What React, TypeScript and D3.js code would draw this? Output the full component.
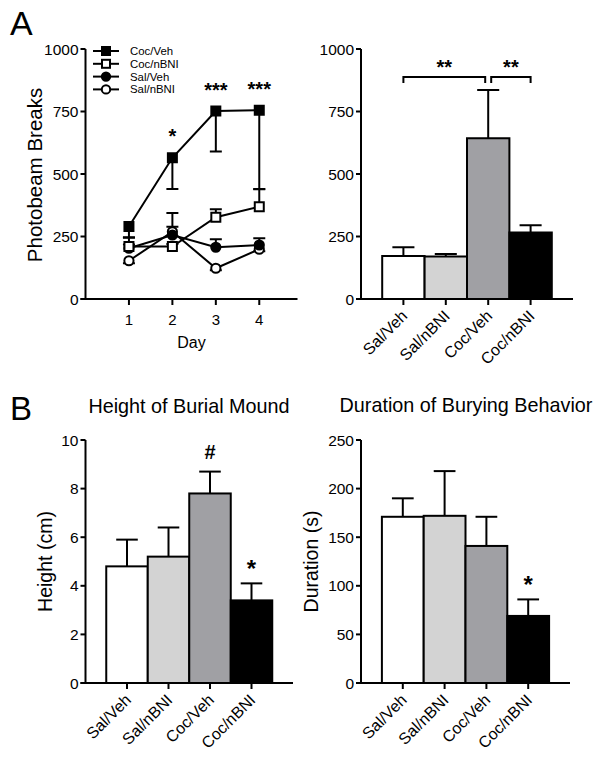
import React from "react";
import * as d3 from "d3";

// ---------- Data ----------
const days = [1, 2, 3, 4];
const seriesNames = ["Coc/Veh", "Coc/nBNI", "Sal/Veh", "Sal/nBNI"];
const cocVeh = [290, 565, 752, 755];
const cocVehErr = [-45, -125, -162, -315];
const cocNbni = [210, 210, 327, 369];
const cocNbniErr = [37, 10, 32, 70];
const salVeh = [203, 256, 207, 216];
const salVehErr = [15, 33, 32, 27];
const salNbni = [153, 269, 123, 199];
const salNbniErr = [-10, 75, -8, -8];
const dayStars = ["", "*", "***", "***"];
const photobeamTicks = [0, 250, 500, 750, 1000];

const groups = ["Sal/Veh", "Sal/nBNI", "Coc/Veh", "Coc/nBNI"];
const groupFills = ["#ffffff", "#d3d3d3", "#a0a0a4", "#000000"];
const photobeamMean = [172, 170, 643, 266];
const photobeamErr = [35, 10, 193, 29];
const heightMean = [4.8, 5.2, 7.8, 3.4];
const heightErr = [1.1, 1.2, 0.9, 0.7];
const heightMarks = ["", "", "#", "*"];
const heightTicks = [0, 2, 4, 6, 8, 10];
const durationMean = [171, 172, 141, 69];
const durationErr = [19, 46, 30, 17];
const durationMarks = ["", "", "", "*"];
const durationTicks = [0, 50, 100, 150, 200, 250];

const FONT = "'Liberation Sans', Arial, Helvetica, sans-serif";

type Marker = "fsq" | "osq" | "fci" | "oci";
const lineSeries: { name: string; values: number[]; errs: number[]; marker: Marker }[] = [
  { name: seriesNames[3], values: salNbni, errs: salNbniErr, marker: "oci" },
  { name: seriesNames[2], values: salVeh, errs: salVehErr, marker: "fci" },
  { name: seriesNames[1], values: cocNbni, errs: cocNbniErr, marker: "osq" },
  { name: seriesNames[0], values: cocVeh, errs: cocVehErr, marker: "fsq" },
];

function MarkerShape({ type, x, y, small }: { type: Marker; x: number; y: number; small?: boolean }) {
  if (type === "fsq" || type === "osq") {
    const s = small ? 8 : 9;
    return (
      <rect x={x - s / 2} y={y - s / 2} width={s} height={s}
        fill={type === "fsq" ? "#000" : "#fff"} stroke="#000" strokeWidth={2} />
    );
  }
  return <circle cx={x} cy={y} r={small ? 4.2 : 4.6} fill={type === "fci" ? "#000" : "#fff"} stroke="#000" strokeWidth={2} />;
}

function LineChart() {
  const axisX = 85.5;
  const yBottom = 299;
  const yTop = 49;
  const x = d3.scaleLinear().domain([0, 4.88]).range([axisX, 297.5]);
  const y = d3.scaleLinear().domain([0, 1000]).range([yBottom, yTop]);
  const line = d3.line<number>().x((_, i) => x(days[i])).y((v) => y(v));
  const cap = 6;
  return (
    <g>
      {/* axes */}
      <line x1={axisX} y1={yTop} x2={axisX} y2={yBottom} stroke="#000" strokeWidth={2} />
      <line x1={axisX - 5} y1={yBottom} x2={x(4.88)} y2={yBottom} stroke="#000" strokeWidth={2} />
      {photobeamTicks.map((t) => (
        <g key={t}>
          <line x1={axisX - 5} x2={axisX} y1={y(t)} y2={y(t)} stroke="#000" strokeWidth={2} />
          <text x={axisX - 7} y={y(t)} dy="0.36em" textAnchor="end" fontSize={15.5}>{t}</text>
        </g>
      ))}
      {days.map((d) => (
        <g key={d}>
          <line x1={x(d)} x2={x(d)} y1={yBottom} y2={yBottom + 6} stroke="#000" strokeWidth={2} />
          <text x={x(d)} y={325} textAnchor="middle" fontSize={15}>{d}</text>
        </g>
      ))}
      <text x={191.5} y={348} textAnchor="middle" fontSize={16}>Day</text>
      <text transform={`translate(35,175) rotate(-90)`} dy="0.35em" textAnchor="middle" fontSize={20.5}>Photobeam Breaks</text>

      {/* error bars */}
      {lineSeries.map((s) =>
        s.values.map((v, i) => {
          const e = v + s.errs[i];
          return (
            <g key={s.name + i}>
              <line x1={x(days[i])} x2={x(days[i])} y1={y(v)} y2={y(e)} stroke="#000" strokeWidth={2} />
              <line x1={x(days[i]) - cap} x2={x(days[i]) + cap} y1={y(e)} y2={y(e)} stroke="#000" strokeWidth={2} />
            </g>
          );
        })
      )}
      {/* lines */}
      {lineSeries.map((s) => (
        <path key={s.name} d={line(s.values) || ""} fill="none" stroke="#000" strokeWidth={2} />
      ))}
      {/* markers */}
      {lineSeries.map((s) =>
        s.values.map((v, i) => <MarkerShape key={s.name + "m" + i} type={s.marker} x={x(days[i])} y={y(v)} />)
      )}
      {/* significance */}
      {dayStars.map((st, i) =>
        st ? (
          <text key={"st" + i} x={x(days[i])} y={y(cocVeh[i]) - 26 + 11.5} textAnchor="middle" fontSize={20} fontWeight="bold">{st}</text>
        ) : null
      )}
      {/* legend */}
      {seriesNames.map((n, i) => {
        const ly = 51 + i * 12.8;
        const mk: Marker[] = ["fsq", "osq", "fci", "oci"];
        return (
          <g key={n}>
            <line x1={93} x2={119} y1={ly} y2={ly} stroke="#000" strokeWidth={2} />
            <MarkerShape type={mk[i]} x={106} y={ly} small />
            <text x={130} y={ly} dy="0.35em" fontSize={11.4}>{n}</text>
          </g>
        );
      })}
    </g>
  );
}

type BarProps = {
  axisX: number;
  rangeEnd: number;
  yTop: number;
  yBottom: number;
  yMax: number;
  ticks: number[];
  means: number[];
  errs: number[];
  marks?: string[];
  yLabel?: string;
  yLabelX?: number;
  title?: string;
  titleX?: number;
  titleY?: number;
  brackets?: boolean;
};

function BarChart(p: BarProps) {
  const x = d3.scaleBand<string>().domain(groups).range([p.axisX, p.rangeEnd]).paddingInner(0).paddingOuter(0.5);
  const y = d3.scaleLinear().domain([0, p.yMax]).range([p.yBottom, p.yTop]);
  const bw = x.bandwidth();
  const cap = bw * 0.26;
  const cx = (g: string) => (x(g) as number) + bw / 2;
  const midY = (p.yTop + p.yBottom) / 2;
  return (
    <g>
      {groups.map((g, i) => (
        <rect key={g} x={x(g)} y={y(p.means[i])} width={bw} height={p.yBottom - y(p.means[i])}
          fill={groupFills[i]} stroke="#000" strokeWidth={2} />
      ))}
      {groups.map((g, i) => {
        const top = y(p.means[i] + p.errs[i]);
        return (
          <g key={g + "e"}>
            <line x1={cx(g)} x2={cx(g)} y1={y(p.means[i])} y2={top} stroke="#000" strokeWidth={2} />
            <line x1={cx(g) - cap} x2={cx(g) + cap} y1={top} y2={top} stroke="#000" strokeWidth={2} />
          </g>
        );
      })}
      <line x1={p.axisX} y1={p.yTop} x2={p.axisX} y2={p.yBottom} stroke="#000" strokeWidth={2} />
      <line x1={p.axisX - 5} y1={p.yBottom} x2={p.rangeEnd} y2={p.yBottom} stroke="#000" strokeWidth={2} />
      {p.ticks.map((t) => (
        <g key={t}>
          <line x1={p.axisX - 5} x2={p.axisX} y1={y(t)} y2={y(t)} stroke="#000" strokeWidth={2} />
          <text x={p.axisX - 7} y={y(t)} dy="0.36em" textAnchor="end" fontSize={15.5}>{t}</text>
        </g>
      ))}
      {groups.map((g) => (
        <g key={g + "t"}>
          <line x1={cx(g)} x2={cx(g)} y1={p.yBottom} y2={p.yBottom + 6} stroke="#000" strokeWidth={2} />
          <text transform={`translate(${cx(g) + 5},${p.yBottom + 18}) rotate(-45)`} textAnchor="end" fontSize={16}>{g}</text>
        </g>
      ))}
      {p.marks &&
        p.marks.map((m, i) => {
          if (!m) return null;
          const top = y(p.means[i] + p.errs[i]);
          const fs = m === "*" ? 24 : 20;
          const c = top - 20;
          const base = c + (m === "*" ? 0.58 * fs : 0.36 * fs);
          return (
            <text key={"m" + i} x={cx(groups[i])} y={base} textAnchor="middle" fontSize={fs} fontWeight="bold">{m}</text>
          );
        })}
      {p.yLabel && (
        <text transform={`translate(${p.yLabelX},${midY}) rotate(-90)`} dy="0.35em" textAnchor="middle" fontSize={19.5}>{p.yLabel}</text>
      )}
      {p.title && (
        <text x={p.titleX} y={p.titleY} textAnchor="middle" fontSize={19.8}>{p.title}</text>
      )}
      {p.brackets && (() => {
        const by = y(p.yMax) + 28;
        const a1 = cx(groups[0]);
        const b1 = cx(groups[2]) - 3;
        const a2 = cx(groups[2]) + 3;
        const b2 = cx(groups[3]);
        const path = (a: number, b: number) => `M${a},${by + 6}V${by}H${b}V${by + 6}`;
        return (
          <g>
            <path d={path(a1, b1)} fill="none" stroke="#000" strokeWidth={2} />
            <path d={path(a2, b2)} fill="none" stroke="#000" strokeWidth={2} />
            <text x={(a1 + b1) / 2} y={by - 15 + 11.5} textAnchor="middle" fontSize={20} fontWeight="bold">**</text>
            <text x={(a2 + b2) / 2} y={by - 15 + 11.5} textAnchor="middle" fontSize={20} fontWeight="bold">**</text>
          </g>
        );
      })()}
    </g>
  );
}

export default function App() {
  return (
    <svg width={601} height={766} style={{ position: "absolute", left: 0, top: 0, background: "#fff" }}
      fontFamily={FONT} fill="#000">
      <rect x={0} y={0} width={601} height={766} fill="#fff" />
      <text x={10} y={35} fontSize={34}>A</text>
      <text x={10} y={420} fontSize={33}>B</text>
      <LineChart />
      <BarChart axisX={361} rangeEnd={573} yTop={49} yBottom={299} yMax={1000} ticks={photobeamTicks}
        means={photobeamMean} errs={photobeamErr} brackets />
      <BarChart axisX={85.5} rangeEnd={293} yTop={440} yBottom={683} yMax={10} ticks={heightTicks}
        means={heightMean} errs={heightErr} marks={heightMarks} yLabel="Height (cm)" yLabelX={45}
        title="Height of Burial Mound" titleX={189} titleY={413} />
      <BarChart axisX={361} rangeEnd={570} yTop={440} yBottom={683} yMax={250} ticks={durationTicks}
        means={durationMean} errs={durationErr} marks={durationMarks} yLabel="Duration (s)" yLabelX={311}
        title="Duration of Burying Behavior" titleX={466} titleY={412} />
    </svg>
  );
}
